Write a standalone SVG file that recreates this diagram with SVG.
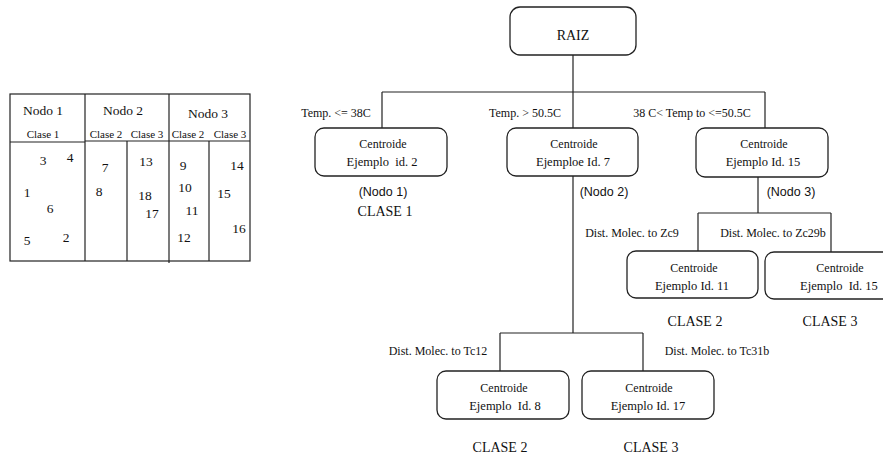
<svg xmlns="http://www.w3.org/2000/svg" width="883" height="459" viewBox="0 0 883 459">
<style>
.ln{stroke:#222;stroke-width:1.2;fill:none}
.bx{stroke:#222;stroke-width:1.3;fill:#fff}
.t{font-family:"Liberation Serif","Times New Roman",serif;fill:#111}
.s{font-size:12px}
.m{font-size:12px;text-anchor:middle}
.e{font-size:12.5px;text-anchor:middle}
.n{font-size:13.5px;text-anchor:middle}
.c{font-size:14px;text-anchor:middle}
.a{font-family:"Liberation Sans",Arial,sans-serif;font-size:12.5px;fill:#111;text-anchor:middle}
</style>
<rect width="883" height="459" fill="#fff"/>
<g id="table">
<rect class="ln" x="10" y="94" width="240" height="167"/>
<line class="ln" x1="85" y1="94" x2="85" y2="261"/>
<line class="ln" x1="169" y1="94" x2="169" y2="263"/>
<line class="ln" x1="10" y1="142" x2="85" y2="142"/>
<line class="ln" x1="85" y1="141" x2="250" y2="141"/>
<line class="ln" x1="127" y1="141" x2="127" y2="261"/>
<line class="ln" x1="209" y1="141" x2="209" y2="261"/>
<text class="t n" x="43" y="115">Nodo 1</text>
<text class="t n" x="123" y="115">Nodo 2</text>
<text class="t n" x="208" y="118">Nodo 3</text>
<text class="t" font-size="11px" text-anchor="middle" x="43" y="138">Clase 1</text>
<text class="t" font-size="11px" text-anchor="middle" x="106" y="138">Clase 2</text>
<text class="t" font-size="11px" text-anchor="middle" x="147" y="138">Clase 3</text>
<text class="t" font-size="11px" text-anchor="middle" x="188" y="138">Clase 2</text>
<text class="t" font-size="11px" text-anchor="middle" x="230" y="138">Clase 3</text>
<text class="t n" x="43" y="165">3</text>
<text class="t n" x="70" y="162">4</text>
<text class="t n" x="27" y="197">1</text>
<text class="t n" x="50" y="213">6</text>
<text class="t n" x="27" y="245">5</text>
<text class="t n" x="66" y="242">2</text>
<text class="t n" x="105" y="172">7</text>
<text class="t n" x="99" y="196">8</text>
<text class="t n" x="146" y="166">13</text>
<text class="t n" x="145" y="200">18</text>
<text class="t n" x="152" y="218">17</text>
<text class="t n" x="183" y="170">9</text>
<text class="t n" x="185" y="192">10</text>
<text class="t n" x="192" y="215">11</text>
<text class="t n" x="184" y="242">12</text>
<text class="t n" x="237" y="170">14</text>
<text class="t n" x="224" y="198">15</text>
<text class="t n" x="239" y="233">16</text>
</g>
<g id="connectors">
<path class="ln" d="M573 55 V128 M382 92 H765 M382 92 V128 M765 92 V128"/>
<path class="ln" d="M573 176 V333 M500 333 H643 M500 333 V371 M643 333 V371"/>
<path class="ln" d="M758 177 V213 M698 213 H831 M698 213 V251 M831 213 V252"/>
</g>
<g id="raiz">
<rect class="bx" x="510" y="7" width="126" height="48" rx="10"/>
<text class="t c" x="573" y="40">RAIZ</text>
</g>
<g id="nodo1">
<rect class="bx" x="315" y="128" width="132" height="48" rx="9"/>
<text class="t m" x="383" y="148">Centroide</text>
<text class="t e" x="382" y="166" xml:space="preserve">Ejemplo  id. 2</text>
</g>
<g id="nodo2">
<rect class="bx" x="507" y="128" width="131" height="48" rx="9"/>
<text class="t m" x="574" y="148">Centroide</text>
<text class="t e" x="573" y="166">Ejemploe Id. 7</text>
</g>
<g id="nodo3">
<rect class="bx" x="696" y="128" width="132" height="49" rx="9"/>
<text class="t m" x="764" y="148">Centroide</text>
<text class="t e" x="763" y="166">Ejemplo Id. 15</text>
</g>
<g id="hoja11">
<rect class="bx" x="627" y="251" width="131" height="47" rx="9"/>
<text class="t m" x="694" y="272">Centroide</text>
<text class="t e" x="692" y="290">Ejemplo Id. 11</text>
</g>
<g id="hoja15">
<rect class="bx" x="765" y="252" width="150" height="47" rx="9"/>
<text class="t m" x="840" y="272">Centroide</text>
<text class="t e" x="839" y="290" xml:space="preserve">Ejemplo  Id. 15</text>
</g>
<g id="hoja8">
<rect class="bx" x="437" y="371" width="132" height="48" rx="9"/>
<text class="t m" x="504" y="392">Centroide</text>
<text class="t e" x="505" y="410" xml:space="preserve">Ejemplo  Id. 8</text>
</g>
<g id="hoja17">
<rect class="bx" x="582" y="371" width="132" height="48" rx="9"/>
<text class="t m" x="649" y="392">Centroide</text>
<text class="t e" x="648" y="410">Ejemplo Id. 17</text>
</g>
<g id="labels">
<text class="t m" x="336" y="117">Temp. &lt;= 38C</text>
<text class="t m" x="525" y="117">Temp. &gt; 50.5C</text>
<text class="t m" x="692" y="117">38 C&lt; Temp to &lt;=50.5C</text>
<text class="a" x="383" y="196">(Nodo 1)</text>
<text class="a" x="604" y="196">(Nodo 2)</text>
<text class="a" x="791" y="196">(Nodo 3)</text>
<text class="t c" x="385" y="216">CLASE 1</text>
<text class="t m" x="632" y="237">Dist. Molec. to Zc9</text>
<text class="t m" x="773" y="237">Dist. Molec. to Zc29b</text>
<text class="t c" x="695" y="326">CLASE 2</text>
<text class="t c" x="830" y="326">CLASE 3</text>
<text class="t m" x="438" y="355">Dist. Molec. to Tc12</text>
<text class="t m" x="717" y="355">Dist. Molec. to Tc31b</text>
<text class="t c" x="500" y="452">CLASE 2</text>
<text class="t c" x="651" y="452">CLASE 3</text>
</g>
</svg>
